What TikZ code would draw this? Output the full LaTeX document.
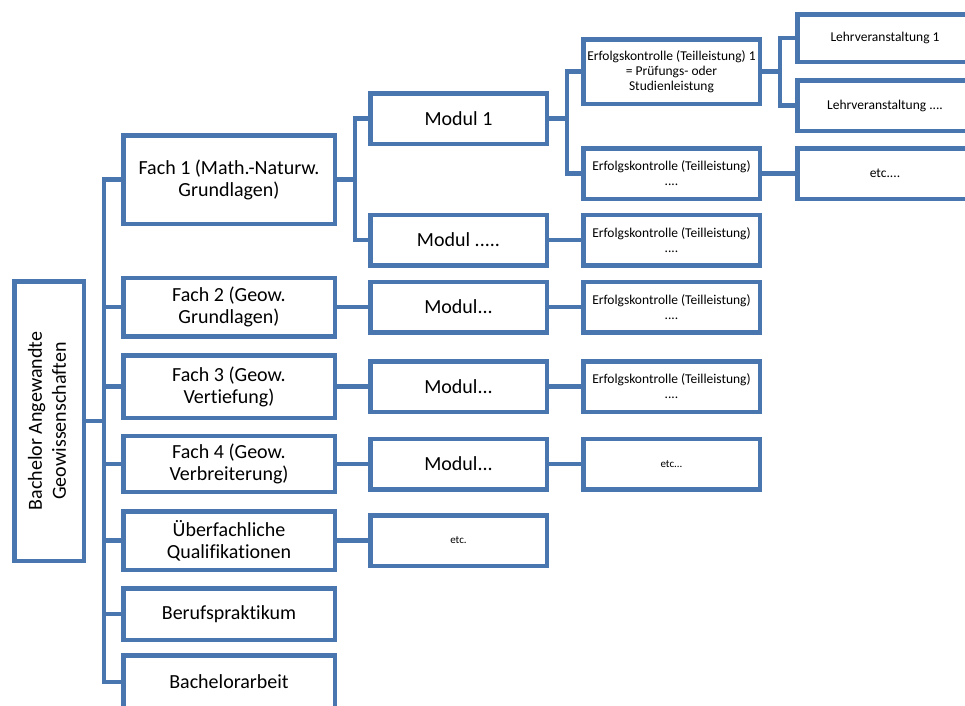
\documentclass[tikz,border=0pt]{standalone}
\usepackage{fontspec}
\setmainfont[Ligatures=CommonOff]{Carlito}
\usetikzlibrary{arrows}
\definecolor{boxblue}{HTML}{4A76B0}
\tikzstyle{box}=[rectangle, draw=boxblue, line width=4.5pt, inner sep=0pt, align=center]
\tikzstyle{fach}=[box, minimum width=211.5pt, font=\fontsize{20}{22}\selectfont]
\tikzstyle{modul}=[box, minimum width=176.5pt, minimum height=50.5pt, font=\fontsize{20}{22}\selectfont]
\tikzstyle{pruef}=[box, minimum width=176.5pt, minimum height=50.5pt, font=\fontsize{13.5}{15}\selectfont]
\tikzstyle{lehr}=[pruef, minimum width=175.5pt]
\newcommand{\fachbox}{\node[fach]}
\newcommand{\modulbox}{\node[modul]}
\newcommand{\pruefbox}{\node[pruef]}
\newcommand{\lehrbox}{\node[lehr]}

\begin{document}
\begin{tikzpicture}[x=1pt, y=-1pt
    ,every edge/.style={draw=boxblue, line width=4.5pt,
        to path={(\tikztostart.east) -- ++(18,0) |- (\tikztotarget.west)}}
]
\useasboundingbox (0,0) rectangle (965,705);
\node[box, minimum width=69.5pt, minimum height=279.5pt, font=\fontsize{20}{24}\selectfont] (root) at (49,421)
    {\rotatebox{90}{\begin{tabular}{@{}c@{}}Bachelor Angewandte\\Geowissenschaften\end{tabular}}};
% Faecher
\fachbox[minimum height=88.5pt] (f1) at (229,179.5) {Fach 1 (Math.-Naturw.\\Grundlagen)};
\fachbox[minimum height=58.5pt] (f2) at (229,307) {Fach 2 (Geow.\\Grundlagen)};
\fachbox[minimum height=62.5pt] (f3) at (229,386.5) {Fach 3 (Geow.\\Vertiefung)};
\fachbox[minimum height=56pt] (f4) at (229,464) {Fach 4 (Geow.\\Verbreiterung)};
\fachbox[minimum height=58.5pt] (f5) at (229,540.5) {Überfachliche\\Qualifikationen};
\fachbox[minimum height=51.5pt] (f6) at (229,614) {Berufspraktikum};
\fachbox[minimum height=53.5pt] (f7) at (229,682) {Bachelorarbeit};
% Module
\modulbox (m1) at (458.5,118.5) {Modul 1};
\modulbox (m1x) at (458.5,240) {Modul .....};
\modulbox (m2) at (458.5,307) {Modul...};
\modulbox (m3) at (458.5,386.5) {Modul...};
\modulbox (m4) at (458.5,464) {Modul...};
\modulbox[font=\fontsize{11}{13}\selectfont] (m5) at (458.5,540.5) {etc.};
% Erfolgskontrollen
\pruefbox[minimum height=64.5pt] (e1) at (671.5,71.5) {Erfolgskontrolle (Teilleistung) 1\\= Prüfungs- oder\\Studienleistung};
\pruefbox (e2) at (671.5,173.5) {Erfolgskontrolle (Teilleistung)\\....};
\pruefbox (e3) at (671.5,240) {Erfolgskontrolle (Teilleistung)\\....};
\pruefbox (e4) at (671.5,307) {Erfolgskontrolle (Teilleistung)\\....};
\pruefbox (e5) at (671.5,386.5) {Erfolgskontrolle (Teilleistung)\\....};
\pruefbox[font=\fontsize{11}{13}\selectfont] (e6) at (671.5,464) {etc...};
% Lehrveranstaltungen
\lehrbox[minimum height=47.5pt] (l1) at (885,38) {Lehrveranstaltung 1};
\lehrbox (l2) at (885,105.5) {Lehrveranstaltung ....};
\lehrbox (l3) at (885,173.5) {etc....};
\path
(root) edge (f1) edge (f2) edge (f3) edge (f4) edge (f5) edge (f6) edge (f7)
(f1) edge (m1) edge (m1x)
(f2) edge (m2)
(f3) edge (m3)
(f4) edge (m4)
(f5) edge (m5)
(m1) edge (e1) edge (e2)
(m1x) edge (e3)
(m2) edge (e4)
(m3) edge (e5)
(m4) edge (e6)
(e1) edge (l1) edge (l2)
(e2) edge (l3)
;
\end{tikzpicture}
\end{document}
